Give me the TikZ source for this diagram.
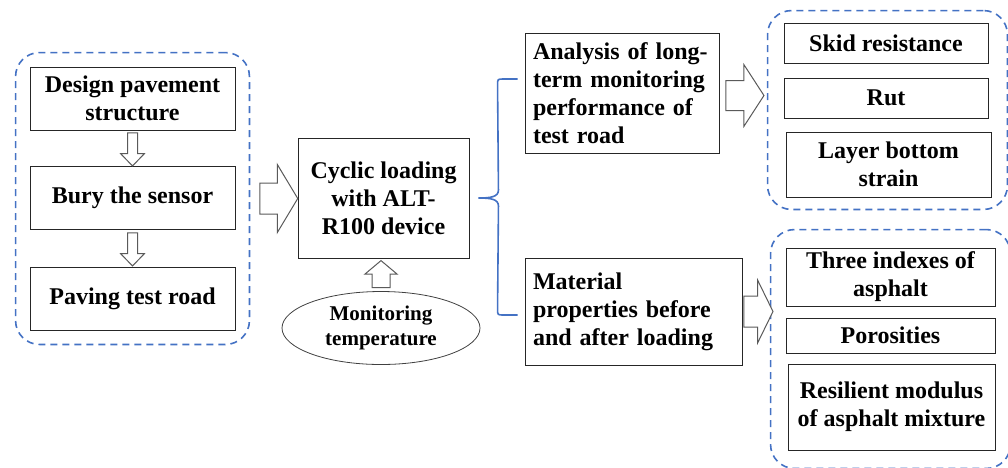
\documentclass[tikz,border=0pt]{standalone}
\usepackage{fontspec}
\setmainfont{Liberation Serif}
\usepackage{tikz}
\usetikzlibrary{positioning, shapes.geometric, shapes.arrows, fit}
\definecolor{myblue}{RGB}{68,114,196}
\definecolor{mygray}{RGB}{90,90,90}

\begin{document}
\begin{tikzpicture}[x=1pt,y=-1pt,
    box/.style={draw=black!85,line width=0.9pt,inner sep=0pt,align=center,font=\fontsize{24}{28}\selectfont\bfseries},
    grp/.style={draw=myblue,line width=1.6pt,dash pattern=on 7pt off 5pt,rounded corners=24pt,inner sep=14pt},
    blk/.style={single arrow,draw=mygray,fill=white,line width=1pt,inner xsep=0pt},
    brace/.style={myblue,line width=1.6pt}]
  \useasboundingbox (0,0) rectangle (1008,467);

  \node[box,minimum width=205pt,minimum height=63pt] (d1) at (132.5,98.5) {Design pavement\\structure};
  \node[box,minimum width=205pt,minimum height=63pt] (d2) at (132.5,197.5) {Bury the sensor};
  \node[box,minimum width=205pt,minimum height=63pt] (d3) at (132.5,298.5) {Paving test road};
  \node[grp,fit=(d1)(d3)] (lgrp) {};

  \node[box,minimum width=171pt,minimum height=120pt] (cyc) at (383.5,198) {Cyclic loading\\with ALT-\\R100 device};
  \node[draw=black!75,line width=0.8pt,ellipse,inner sep=0pt,minimum width=198pt,minimum height=73pt,align=center,
    font=\fontsize{21}{25}\selectfont\bfseries] (temp) at (381,328) {Monitoring\\temperature};

  \node[box,align=left,text width=178pt,inner xsep=8pt,minimum height=120pt] (ana) at (622,93)
    {Analysis of long-\\term monitoring\\performance of\\test road};
  \node[box,align=left,text width=201pt,inner xsep=8pt,minimum height=107pt] (mat) at (633.5,311.5)
    {Material\\properties before\\and after loading};

  \node[box,minimum width=204pt,minimum height=40pt] (skid) at (886,43) {Skid resistance};
  \node[box,minimum width=204pt,minimum height=40pt] (rut) at (886,98) {Rut};
  \node[box,minimum width=205pt,minimum height=65pt] (layer) at (888.5,164.5) {Layer bottom\\strain};
  \node[grp,fit=(skid)(layer),inner xsep=16pt,inner ysep=12pt] (rgrp1) {};

  \node[box,minimum width=209pt,minimum height=58pt] (three) at (890.5,277) {Three indexes of\\asphalt};
  \node[box,minimum width=209pt,minimum height=35pt] (poro) at (890.5,335.5) {Porosities};
  \node[box,minimum width=207pt,minimum height=86pt] (resil) at (891.5,407) {Resilient modulus\\of asphalt mixture};
  \node[grp,fit=(three)(resil),inner xsep=15pt,inner ysep=18pt] (rgrp2) {};

  \node[blk,shape border rotate=270,inner sep=4.5pt,minimum height=33pt,single arrow head extend=7pt,
    single arrow tip angle=88,anchor=tail] (a1) at ([yshift=-2pt]d1.south) {};
  \node[blk,shape border rotate=270,inner sep=4.5pt,minimum height=33pt,single arrow head extend=7pt,
    single arrow tip angle=88,anchor=tail] (a2) at ([yshift=-3pt]d2.south) {};
  \node[blk,inner ysep=15pt,minimum height=38pt,single arrow head extend=18.5pt,
    single arrow tip angle=118,anchor=tail] (a3) at ([xshift=9pt]lgrp.east) {};
  \node[blk,shape border rotate=90,inner sep=8.5pt,minimum height=27pt,single arrow head extend=7pt,
    single arrow tip angle=100,anchor=tail] (a4) at ([yshift=3pt]temp.north) {};
  \node[blk,inner ysep=14.5pt,minimum height=38pt,single arrow head extend=16pt,
    single arrow tip angle=114,anchor=tail] (a5) at ([shift={(6pt,-2.5pt)}]ana.east) {};
  \node[blk,inner ysep=15pt,minimum height=29pt,single arrow head extend=16pt,
    single arrow tip angle=128,anchor=tail] (a6) at ([xshift=1pt]mat.east) {};

  \coordinate (brtip) at ([xshift=9pt]cyc.east);
  \coordinate (brtop) at ([shift={(-7,-14)}]ana.west);
  \coordinate (brbot) at ([shift={(-7,3.5)}]mat.west);
  \draw[brace] (brtop) -- ++(-14,0) .. controls +(-6,0) and +(0,-6) .. ++(-6,6)
    -- ([shift={(20,-8)}]brtip) .. controls +(0,7) and +(12,0) .. (brtip)
    .. controls +(12,0) and +(0,-7) .. ([shift={(20,8)}]brtip)
    -- ([shift={(-20,-6)}]brbot) .. controls +(0,6) and +(-6,0) .. ++(6,6) -- (brbot);
\end{tikzpicture}
\end{document}
